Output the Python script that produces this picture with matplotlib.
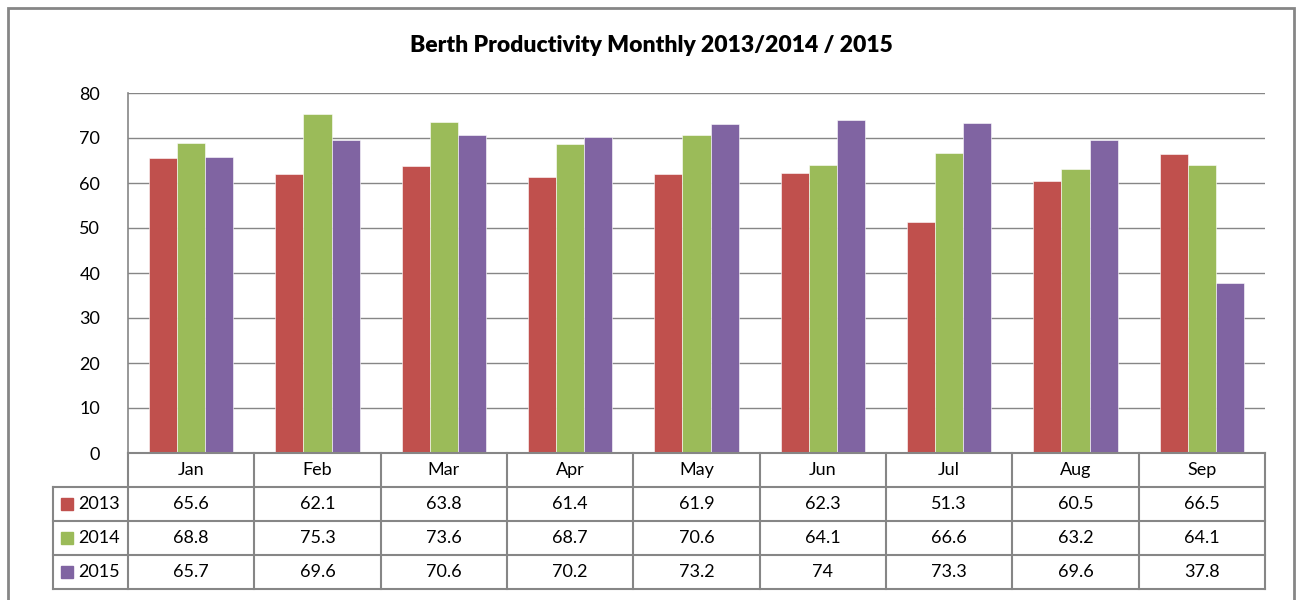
import matplotlib
matplotlib.use("Agg")
import matplotlib.pyplot as plt
from matplotlib.patches import Rectangle
import numpy as np

months = ["Jan", "Feb", "Mar", "Apr", "May", "Jun", "Jul", "Aug", "Sep"]
years = ["2013", "2014", "2015"]
vals_2013 = [65.6, 62.1, 63.8, 61.4, 61.9, 62.3, 51.3, 60.5, 66.5]
vals_2014 = [68.8, 75.3, 73.6, 68.7, 70.6, 64.1, 66.6, 63.2, 64.1]
vals_2015 = [65.7, 69.6, 70.6, 70.2, 73.2, 74, 73.3, 69.6, 37.8]
table_text_2015 = ["65.7", "69.6", "70.6", "70.2", "73.2", "74", "73.3", "69.6", "37.8"]
colors = ["#C0504D", "#9BBB59", "#8064A2"]
y_ticks = [0, 10, 20, 30, 40, 50, 60, 70, 80]

plt.rcParams['font.family'] = ['Lato', 'DejaVu Sans']
W, H = 1297, 600
grey = "#868686"

fig = plt.figure(figsize=(W / 100, H / 100), dpi=100)

# outer chart border (bottom edge is cut off in the original)
fig.patches.append(Rectangle((8 / W, -0.05), (1294 - 8) / W, 1.05 - 8 / H,
                             transform=fig.transFigure, fill=False,
                             edgecolor=grey, linewidth=2))

left, right, top, bottom = 128, 1265, 93, 453
ax = fig.add_axes([left / W, 1 - bottom / H, (right - left) / W, (bottom - top) / H])

x = np.arange(len(months))
bw = 0.222
series = [vals_2013, vals_2014, vals_2015]
for i, s in enumerate(series):
    ax.bar(x + (i - 1) * bw, s, width=bw, color=colors[i],
           edgecolor="white", linewidth=0.4, zorder=3)

ax.set_xlim(-0.5, len(months) - 0.5)
ax.set_ylim(0, 80)
ax.set_yticks(y_ticks)
ax.set_xticks([])
ax.tick_params(axis="y", length=0, pad=20, labelsize=13)
ax.grid(axis="y", color=grey, linewidth=1, zorder=0)
for side in ["top", "right", "bottom"]:
    ax.spines[side].set_visible(False)
ax.spines["left"].set_color(grey)
ax.spines["left"].set_linewidth(1.2)

fig.text(651 / W, 1 - 45 / H, "Berth Productivity Monthly 2013/2014 / 2015",
         ha="center", va="center", fontsize=16.5, fontweight="heavy")

# data table under the chart
tab_left, tab_bottom = 53, 589
cat_px = (right - left) / len(months)
x0 = -0.5 - (left - tab_left) / cat_px
tab = fig.add_axes([tab_left / W, 1 - tab_bottom / H, (right - tab_left) / W,
                    (tab_bottom - bottom) / H])
tab.set_xlim(x0, len(months) - 0.5)
tab.set_ylim(4, 0)
tab.axis("off")

lw = 1.5
tab.plot([-0.5, len(months) - 0.5], [0, 0], color=grey, lw=lw, clip_on=False)
for r in [1, 2, 3, 4]:
    tab.plot([x0, len(months) - 0.5], [r, r], color=grey, lw=lw, clip_on=False)
tab.plot([x0, x0], [1, 4], color=grey, lw=lw, clip_on=False)
for k in range(len(months) + 1):
    tab.plot([k - 0.5, k - 0.5], [0, 4], color=grey, lw=lw, clip_on=False)

for j, m in enumerate(months):
    tab.text(j, 0.5, m, ha="center", va="center", fontsize=13)

rows_text = [[f"{v}" for v in vals_2013], [f"{v}" for v in vals_2014], table_text_2015]
sq = 12 / cat_px
for i, y in enumerate(years):
    r = i + 1.5
    tab.add_patch(Rectangle((x0 + 8 / cat_px, r - 0.18), sq, 0.36,
                            color=colors[i], clip_on=False))
    tab.text(x0 + 25 / cat_px, r, y, ha="left", va="center", fontsize=13)
    for j, t in enumerate(rows_text[i]):
        tab.text(j, r, t, ha="center", va="center", fontsize=13)

fig.savefig("out.png", dpi=100)
